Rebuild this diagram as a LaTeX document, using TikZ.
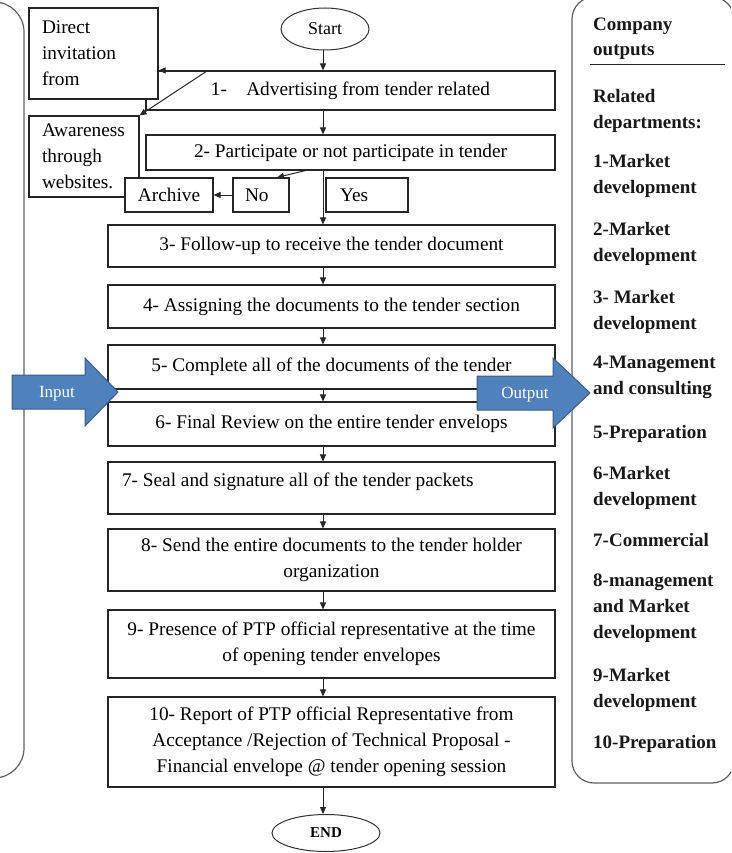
\documentclass[tikz,border=0pt]{standalone}
\usepackage{fontspec}
\setmainfont{Liberation Serif}
\usetikzlibrary{shapes.geometric, arrows.meta, positioning, calc}
\definecolor{arrowblue}{RGB}{79, 129, 189}
\definecolor{arrowedge}{RGB}{56, 93, 138}
\definecolor{panelgray}{RGB}{95, 95, 95}
\tikzset{
  stepbox/.style   = {rectangle, draw=black!85, line width=1.1pt, fill=white, align=center, inner sep=0pt, font=\fontsize{19.3}{26}\selectfont},
  sidebox/.style   = {rectangle, draw=black!85, line width=1.1pt, fill=white, align=flush left, inner xsep=13pt, inner ysep=0pt, font=\fontsize{19.3}{26}\selectfont},
  term/.style      = {ellipse, draw=black!80, line width=1pt, fill=white, inner sep=0pt},
  flow/.style      = {-{Triangle[length=7pt,width=6pt]}, line width=1pt, black!85},
  dept/.style      = {anchor=north west, align=flush left, inner sep=0pt, font=\fontsize{19}{26}\selectfont\bfseries, text=black!90},
  bigarrow/.style  = {fill=arrowblue, draw=arrowedge, line width=1pt},
  arrowlbl/.style  = {text=white, inner sep=0pt, font=\fontsize{17}{20}\selectfont},
  panel/.style     = {draw=panelgray, line width=1.2pt},
}

\begin{document}
\begin{tikzpicture}[x=1pt, y=-1pt]   % pixel grid, y downwards
\useasboundingbox (0,0) rectangle (731,853);

% ==================== side panels ====================
\begin{scope}
  \clip (0,0) rectangle (731,853);
  \draw[panel, rounded corners=30pt] (-60,2) rectangle (24,778);
  \draw[panel, rounded corners=22pt] (572,-3) rectangle (734,783);
\end{scope}

% ==================== main column ====================
\coordinate (spine) at (323,0);

\node[term, minimum width=88pt, minimum height=42pt, font=\fontsize{18}{20}\selectfont] (start) at (325,29) {Start};

\node[stepbox, minimum width=409pt, minimum height=39pt] (b1) at (350.5,90.5) {1-\quad Advertising from tender related};
\node[stepbox, minimum width=409pt, minimum height=35pt] (b2) at (350.5,152.5) {2- Participate or not participate in tender};

\node[stepbox, minimum width=447pt, minimum height=42pt] (b3) at (331.5,246) {3- Follow-up to receive the tender document};
\node[stepbox, minimum width=447pt, minimum height=43pt] (b4) at (331.5,306.5) {4- Assigning the documents to the tender section};
\node[stepbox, minimum width=447pt, minimum height=44pt] (b5) at (331.5,367) {5- Complete all of the documents of the tender};
\node[stepbox, minimum width=447pt, minimum height=44pt] (b6) at (331.5,424) {6- Final Review on the entire tender envelops};
\node[stepbox, align=flush left, text width=419pt, inner xsep=14pt, inner ysep=5pt,
      text height=19pt, text depth=23pt] (b7) at (331.5,488) {7- Seal and signature all of the tender packets};
\node[stepbox, minimum width=447pt, minimum height=62pt] (b8) at (331.5,560) {8- Send the entire documents to the tender holder\\organization};
\node[stepbox, minimum width=447pt, minimum height=68pt] (b9) at (331.5,644) {9- Presence of PTP official representative at the time\\of opening tender envelopes};
\node[stepbox, minimum width=447pt, minimum height=90pt] (b10) at (331.5,742) {10- Report of PTP official Representative from\\Acceptance /Rejection of Technical Proposal -\\Financial envelope @ tender opening session};

\node[term, minimum width=108pt, minimum height=37pt, font=\fontsize{15}{18}\selectfont\bfseries] (end) at (326,833) {END};

% ==================== left side boxes ====================
\node[sidebox, text width=103pt, minimum height=91pt] (direct) at (93.5,53.5) {Direct\\invitation\\from};
\node[sidebox, text width=84pt, minimum height=81pt] (aware) at (84,156.5) {Awareness\\through\\websites.};
\node[stepbox, minimum width=88pt, minimum height=34pt] (archive) at (169,195) {Archive};
\node[sidebox, text width=32pt, inner xsep=12pt, minimum height=34pt] (no) at (261,195) {No};
\node[sidebox, text width=54pt, inner xsep=14pt, minimum height=34pt] (yes) at (367,195) {Yes};

% ==================== connectors ====================
\draw[flow] (start.south -| spine) -- (b1.north -| spine);
\draw[flow] (b1.south -| spine) -- (b2.north -| spine);
\draw[flow] (b2.south -| spine) -- (b3.north -| spine);
\draw[flow] (b3.south -| spine) -- (b4.north -| spine);
\draw[flow] (b4.south -| spine) -- (b5.north -| spine);
\draw[flow] (b5.south -| spine) -- (b6.north -| spine);
\draw[flow] (b6.south -| spine) -- (b7.north -| spine);
\draw[flow] (b7.south -| spine) -- (b8.north -| spine);
\draw[flow] (b8.south -| spine) -- (b9.north -| spine);
\draw[flow] (b9.south -| spine) -- (b10.north -| spine);
\draw[flow] (b10.south -| spine) -- (end.north -| spine);

\coordinate (b1fork) at ($(b1.north west)!0.152!(b1.north east)$);
\draw[flow] (b1fork) -- (b1fork -| direct.east);
\draw[flow] (b1fork) -- (aware.north east);

\coordinate (b2fork) at ($(b2.south west)!0.39!(b2.south east)$);
\draw[flow] (b2fork) -- ([xshift=16pt]no.north);
\draw[flow] (no.west) -- (archive.east);

% ==================== input / output arrows ====================
\draw[bigarrow] (12,375) -- (85,375) -- (85,358) -- (118,392) -- (85,426) -- (85,409) -- (12,409) -- cycle;
\node[arrowlbl] (inlbl) at (57,394) {Input};
\draw[bigarrow] (477,376) -- (553,376) -- (553,358) -- (590,393) -- (553,428) -- (553,410) -- (477,410) -- cycle;
\node[arrowlbl] (outlbl) at (525,395) {Output};

% ==================== company outputs ====================
\node[dept] (hdr) at (593,18) {Company\\[-1pt]outputs};
\draw[black!85, line width=1pt] (590,65) -- (725,65);
\node[dept] (rel) at (593,89)  {Related\\departments:};
\node[dept] (d1)  at (593,154) {1-Market\\development};
\node[dept] (d2)  at (593,222) {2-Market\\development};
\node[dept] (d3)  at (593,290) {3- Market\\development};
\node[dept] (d4)  at (593,356) {4-Management\\and consulting};
\node[dept] (d5)  at (593,425) {5-Preparation};
\node[dept] (d6)  at (593,466) {6-Market\\development};
\node[dept] (d7)  at (593,533) {7-Commercial};
\node[dept] (d8)  at (593,574) {8-management\\and Market\\development};
\node[dept] (d9)  at (593,668) {9-Market\\development};
\node[dept] (d10) at (593,735) {10-Preparation};

\end{tikzpicture}
\end{document}
